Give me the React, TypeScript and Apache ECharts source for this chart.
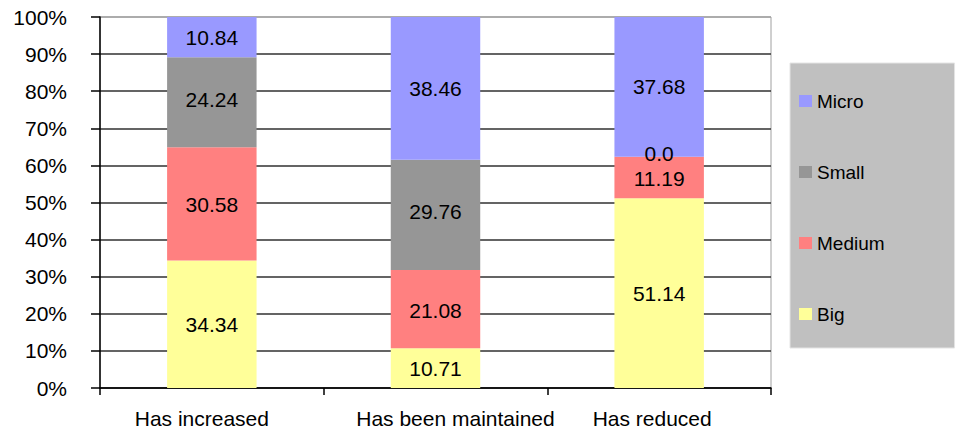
import React, { useEffect, useRef } from "react";
import * as echarts from "echarts";

const categories = ["Has increased", "Has been maintained", "Has reduced"];
const seriesNames = ["Big", "Medium", "Small", "Micro"];
const bigValues = [34.34, 10.71, 51.14];
const mediumValues = [30.58, 21.08, 11.19];
const smallValues = [24.24, 29.76, 0.0];
const microValues = [10.84, 38.46, 37.68];
const legendOrder = ["Micro", "Small", "Medium", "Big"];
const labelShifts = [-10, 20, -7];

const colors: Record<string, string> = {
  Big: "#FFFF99",
  Medium: "#FF8080",
  Small: "#969696",
  Micro: "#9999FF",
};

const FONT = "'Liberation Sans', Arial, sans-serif";

export default function App() {
  const ref = useRef<HTMLDivElement>(null);
  useEffect(() => {
    if (!ref.current) return;
    const chart = echarts.init(ref.current, undefined, { renderer: "svg" });
    const valuesByName: Record<string, number[]> = {
      Big: bigValues,
      Medium: mediumValues,
      Small: smallValues,
      Micro: microValues,
    };
    const labelOffsets: Record<string, number[]> = {
      Big: [0, 0],
      Medium: [0, 1],
      Small: [0, -3],
      Micro: [0, 0],
    };
    const gridColors = Array.from({ length: 11 }, (_, i) => (i === 10 ? "#A0A0A0" : "#303030"));
    chart.setOption({
      animation: false,
      textStyle: { fontFamily: FONT },
      grid: {
        left: 100,
        right: 185,
        top: 17,
        bottom: 47,
        show: true,
        borderColor: "#A0A0A0",
        borderWidth: 1,
        backgroundColor: "#FFFFFF",
      },
      legend: {
        orient: "vertical",
        left: 790,
        top: 63,
        data: legendOrder,
        backgroundColor: "#C0C0C0",
        borderColor: "#E4E4E4",
        borderWidth: 1,
        borderRadius: 0,
        padding: [28, 70, 24, 9],
        itemWidth: 13,
        itemHeight: 12,
        itemGap: 51,
        icon: "rect",
        selectedMode: false,
        textStyle: { fontSize: 19, color: "#000", fontFamily: FONT, lineHeight: 20 },
      },
      xAxis: {
        type: "category",
        data: categories.map((c, i) => ({
          value: c,
          textStyle: {
            padding: labelShifts[i] >= 0 ? [0, 0, 0, labelShifts[i] * 2] : [0, -labelShifts[i] * 2, 0, 0],
          },
        })),
        axisLine: { lineStyle: { color: "#000", width: 1.5 } },
        axisTick: { show: true, length: 7, interval: 0, lineStyle: { color: "#000", width: 1.5 } },
        axisLabel: { fontSize: 21, color: "#000", margin: 20, interval: 0, fontFamily: FONT },
        splitLine: { show: false },
      },
      yAxis: {
        type: "value",
        min: 0,
        max: 100,
        interval: 10,
        axisLine: { show: true, lineStyle: { color: "#000", width: 1.5 } },
        axisTick: { show: true, length: 9, lineStyle: { color: "#000", width: 1.5 } },
        axisLabel: {
          formatter: "{value}%",
          fontSize: 21,
          color: "#000",
          margin: 33,
          fontFamily: FONT,
        },
        splitLine: { show: true, lineStyle: { color: gridColors, width: 1.5 } },
      },
      series: seriesNames.map((name) => ({
        name,
        type: "bar",
        stack: "total",
        barWidth: "40%",
        data: valuesByName[name],
        itemStyle: { color: colors[name] },
        label: {
          show: true,
          position: "inside",
          color: "#000",
          fontSize: 21,
          lineHeight: 17,
          fontFamily: FONT,
          offset: labelOffsets[name],
          formatter: (p: any) => (p.value === 0 ? "0.0" : Number(p.value).toFixed(2)),
        },
      })),
    });
    return () => chart.dispose();
  }, []);
  return (
    <div
      ref={ref}
      style={{ position: "fixed", left: 0, top: 0, width: 956, height: 435, background: "#fff" }}
    />
  );
}
